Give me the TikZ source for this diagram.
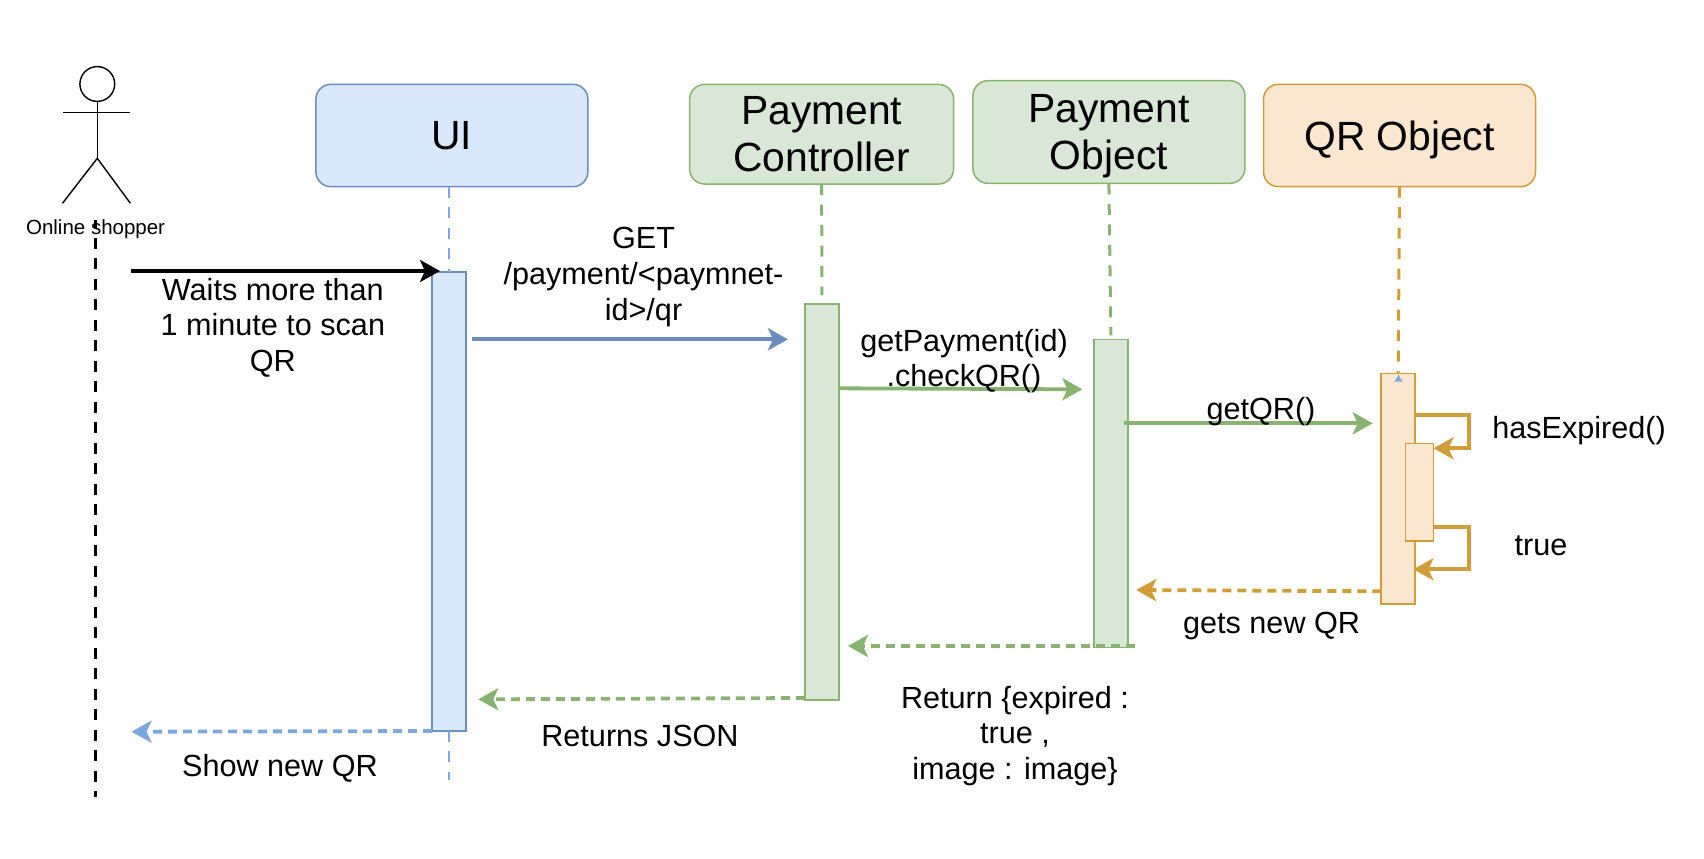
\documentclass[tikz,border=0pt]{standalone}
\usepackage{fontspec}
\setmainfont{Liberation Sans}
\usetikzlibrary{arrows.meta}

\definecolor{ui_fill}{HTML}{DAE8FC}
\definecolor{ui_draw}{HTML}{6C8EBF}
\definecolor{ui_dash}{HTML}{7EA6E0}
\definecolor{pay_fill}{HTML}{D9E8D6}
\definecolor{pay_draw}{HTML}{88B370}
\definecolor{qr_fill}{HTML}{FBE6D0}
\definecolor{qr_draw}{HTML}{D19D38}

\begin{document}
\begin{tikzpicture}[x=0.5pt, y=-0.5pt,
		head_style/.style={rectangle,rounded corners=7.5pt,line width=0.75pt,inner sep=0pt,outer sep=0pt,align=center,text depth=0pt,font=\fontsize{20.4}{23.5}\selectfont},
		bar_style/.style={rectangle,line width=0.8pt,inner sep=0pt,outer sep=0pt,minimum width=17pt},
		text_style/.style={inner sep=0pt,align=center,font=\fontsize{15.3}{17.85}\selectfont},
		tip_style/.style={-{Stealth[length=10pt,width=11pt,inset=2.5pt]}},
		life_style/.style={line width=1.5pt,dash pattern=on 5.5pt off 4.75pt},
		edge_style/.style={line width=1.9pt,tip_style},
		back_style/.style={line width=1.9pt,tip_style,dash pattern=on 4.5pt off 3pt}]

		\useasboundingbox (0,0) rectangle (1704,858);

		% actor
		\node[circle,draw=black,line width=0.7pt,minimum size=17.4pt,inner sep=0pt,outer sep=0pt] (head) at (97.3,84) {};
		\coordinate (neck) at (97.3,158.3);
		\coordinate (arm_l) at (62.5,112.7);
		\coordinate (arm_r) at (130.4,112.7);
		\coordinate (leg_l) at (62.5,203.3);
		\coordinate (leg_r) at (130.4,203.3);
		\draw[line width=0.7pt] (head) -- (neck);
		\draw[line width=0.7pt] (arm_l) -- (arm_r);
		\draw[line width=0.7pt] (leg_l) -- (neck) -- (leg_r);
		\node[inner sep=0pt,font=\fontsize{10.25}{12}\selectfont] (shopper) at (95.6,229.5) {Online shopper};

		% heads
		\node[head_style,draw=ui_draw,fill=ui_fill,minimum width=136pt,minimum height=51.2pt] (n_ui) at (451.9,135.5) {UI};
		\node[head_style,draw=pay_draw,fill=pay_fill,minimum width=132pt,minimum height=49.8pt] (n_ctrl) at (821.6,134.2) {Payment\\Controller};
		\node[head_style,draw=pay_draw,fill=pay_fill,minimum width=136pt,minimum height=51.3pt] (n_obj) at (1108.9,132) {Payment\\Object};
		\node[head_style,draw=qr_draw,fill=qr_fill,minimum width=136pt,minimum height=51.2pt] (n_qr) at (1399.5,135.5) {QR Object};

		% bars
		\node[bar_style,draw=ui_draw,fill=ui_fill,minimum height=229.6pt] (bar_ui) at (449.2,501.3) {};
		\node[bar_style,draw=pay_draw,fill=pay_fill,minimum height=198pt] (bar_ctrl) at (822,502) {};
		\node[bar_style,draw=pay_draw,fill=pay_fill,minimum height=154pt] (bar_obj) at (1110.9,493.3) {};
		\node[bar_style,draw=qr_draw,fill=qr_fill,minimum height=115.4pt] (bar_qr) at (1398.2,488.7) {};
		\node[bar_style,draw=qr_draw,fill=qr_fill,minimum width=14pt,minimum height=48.7pt] (bar_in) at (1419.4,492) {};

		% free ends
		\coordinate (life_top) at (95.4,220);
		\coordinate (life_end) at (95.4,797);
		\coordinate (ui_end) at (449.2,780);
		\coordinate (go_a) at (131,271);
		\coordinate (go_b) at (440,271);
		\coordinate (get_a) at (472.3,339.3);
		\coordinate (get_b) at (788,339.3);
		\coordinate (chk_a) at (839,388.3);
		\coordinate (chk_b) at (1082.4,389.3);
		\coordinate (qr_a) at (1123.7,423.3);
		\coordinate (qr_b) at (1372.7,423.3);
		\coordinate (new_a) at (1381.3,591.3);
		\coordinate (new_b) at (1136.2,590);
		\coordinate (ret_a) at (1134.6,646);
		\coordinate (ret_b) at (848,646);
		\coordinate (json_a) at (804.9,698);
		\coordinate (json_b) at (478.3,699.3);
		\coordinate (show_a) at (432,731);
		\coordinate (show_b) at (131.5,731.7);
		\coordinate (exp_a) at (1415,415);
		\coordinate (exp_b) at (1433.5,448.3);
		\coordinate (tru_a) at (1433.5,526.7);
		\coordinate (tru_b) at (1413.4,569.3);
		\coordinate (mark_a) at (1398.5,382);
		\coordinate (mark_b) at (1398.5,375);

		% lifelines
		\draw[line width=1.5pt,dash pattern=on 5.5pt off 4.75pt,dash phase=1.5pt,color=black] (life_top) -- (life_end);
		\draw[life_style,line width=1pt,color=ui_dash] (bar_ui.north |- n_ui.south) -- (bar_ui.north);
		\draw[life_style,line width=1pt,color=ui_dash] (bar_ui.south) -- (ui_end);
		\draw[life_style,color=pay_draw,shorten >=4.5pt] (n_ctrl.south) -- (bar_ctrl.north);
		\draw[life_style,color=pay_draw,shorten >=2pt] (n_obj.south) -- (bar_obj.north);
		\draw[life_style,color=qr_draw] (n_qr.south) -- (bar_qr.north);
		\draw[-{Stealth[length=3.5pt,width=4pt,inset=0.5pt]},line width=0.1pt,color=ui_dash] (mark_a) -- (mark_b);

		% calls
		\draw[edge_style,color=black] (go_a) -- (go_b);
		\draw[edge_style,color=ui_draw] (get_a) -- (get_b);
		\draw[edge_style,color=pay_draw] (chk_a) -- (chk_b);
		\draw[edge_style,color=pay_draw] (qr_a) -- (qr_b);
		\draw[edge_style,color=qr_draw] (exp_a) -- ++(53.8,0) |- (exp_b);
		\draw[edge_style,color=qr_draw] (tru_a) -- ++(35.3,0) |- (tru_b);

		% returns
		\draw[back_style,color=qr_draw] (new_a) -- (new_b);
		\draw[back_style,color=pay_draw] (ret_a) -- (ret_b);
		\draw[back_style,color=pay_draw] (json_a) -- (json_b);
		\draw[back_style,color=ui_dash] (show_a) -- (show_b);

		% labels
		\node[text_style] (t_wait) at (272.8,327.5) {Waits more than\\1 minute to scan\\QR};
		\node[text_style] (t_get) at (643.5,277) {GET\\/payment/<paymnet-\\id>/qr};
		\node[text_style] (t_chk) at (964,361) {getPayment(id)\\.checkQR()};
		\node[text_style] (t_qr) at (1261,412) {getQR()};
		\node[text_style] (t_exp) at (1579,431) {hasExpired()};
		\node[text_style] (t_true) at (1541,545.7) {true};
		\node[text_style] (t_new) at (1271.6,625.5) {gets new QR};
		\node[text_style] (t_ret) at (1015,736) {Return \{expired :\\true ,\\image : image\}};
		\node[text_style] (t_json) at (640,735.5) {Returns JSON};
		\node[text_style] (t_show) at (280,768.5) {Show new QR};

\end{tikzpicture}
\end{document}
